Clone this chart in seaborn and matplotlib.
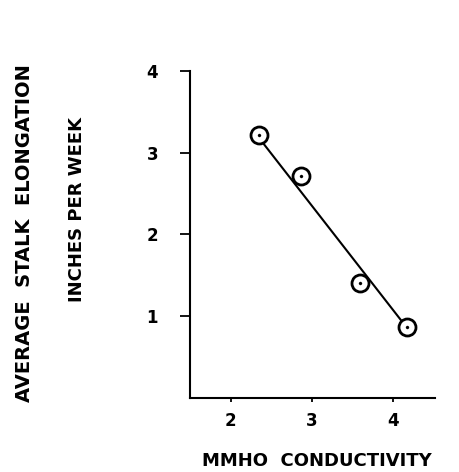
import pandas as pd
import matplotlib
matplotlib.use("Agg")
import matplotlib.pyplot as plt
import seaborn as sns

# values
conductivity = [2.35, 2.87, 3.59, 4.17]
elongation = [3.22, 2.71, 1.40, 0.87]
trend_x = [2.35, 4.17]
trend_y = [3.18, 0.86]
x_ticks = [2, 3, 4]
y_ticks = [1, 2, 3, 4]

df = pd.DataFrame({'conductivity': conductivity, 'elongation': elongation})
trend = pd.DataFrame({'x': trend_x, 'y': trend_y})

sns.set_style("ticks")
plt.rcParams['font.family'] = ['DejaVu Sans']
plt.rcParams['font.weight'] = 'bold'
plt.rcParams['text.color'] = 'black'
plt.rcParams['axes.labelcolor'] = 'black'

fig = plt.figure(figsize=(4.6, 4.72), dpi=100)
ax = fig.add_axes([0.413, 0.157, 0.533, 0.693])

sns.lineplot(data=trend, x='x', y='y', color='black', linewidth=1.5, ax=ax)
sns.scatterplot(data=df, x='conductivity', y='elongation', marker='o', s=150,
                facecolor='white', edgecolor='black', linewidth=2.0, zorder=3, ax=ax)
sns.scatterplot(data=df, x='conductivity', y='elongation', marker='o', s=5,
                color='black', edgecolor='black', zorder=4, ax=ax)

ax.set_xlim(1.5, 4.52)
ax.set_ylim(0, 4)
ax.set_xticks(x_ticks)
ax.set_yticks(y_ticks)
ax.set_xticklabels([str(v) for v in x_ticks], fontsize=12, fontweight='bold')
ax.set_yticklabels([str(v) for v in y_ticks], fontsize=12, fontweight='bold')
ax.tick_params(axis='y', length=7, width=1.3, pad=16, colors='black')
ax.tick_params(axis='x', length=3, width=1.3, pad=7, colors='black')

sns.despine(ax=ax)
for side in ['left', 'bottom']:
    ax.spines[side].set_linewidth(1.5)
    ax.spines[side].set_color('black')

ax.set_xlabel('MMHO  CONDUCTIVITY', fontsize=13, fontweight='bold', va='center')
ax.xaxis.set_label_coords(0.518, -0.193)
ax.set_ylabel('INCHES PER WEEK', fontsize=13, fontweight='bold', va='center')
ax.yaxis.set_label_coords(-0.461, 0.575)
ax.text(-0.673, 0.505, 'AVERAGE  STALK  ELONGATION', transform=ax.transAxes,
        rotation=90, ha='center', va='center', fontsize=14, fontweight='bold')

fig.savefig('out.png', dpi=100)
